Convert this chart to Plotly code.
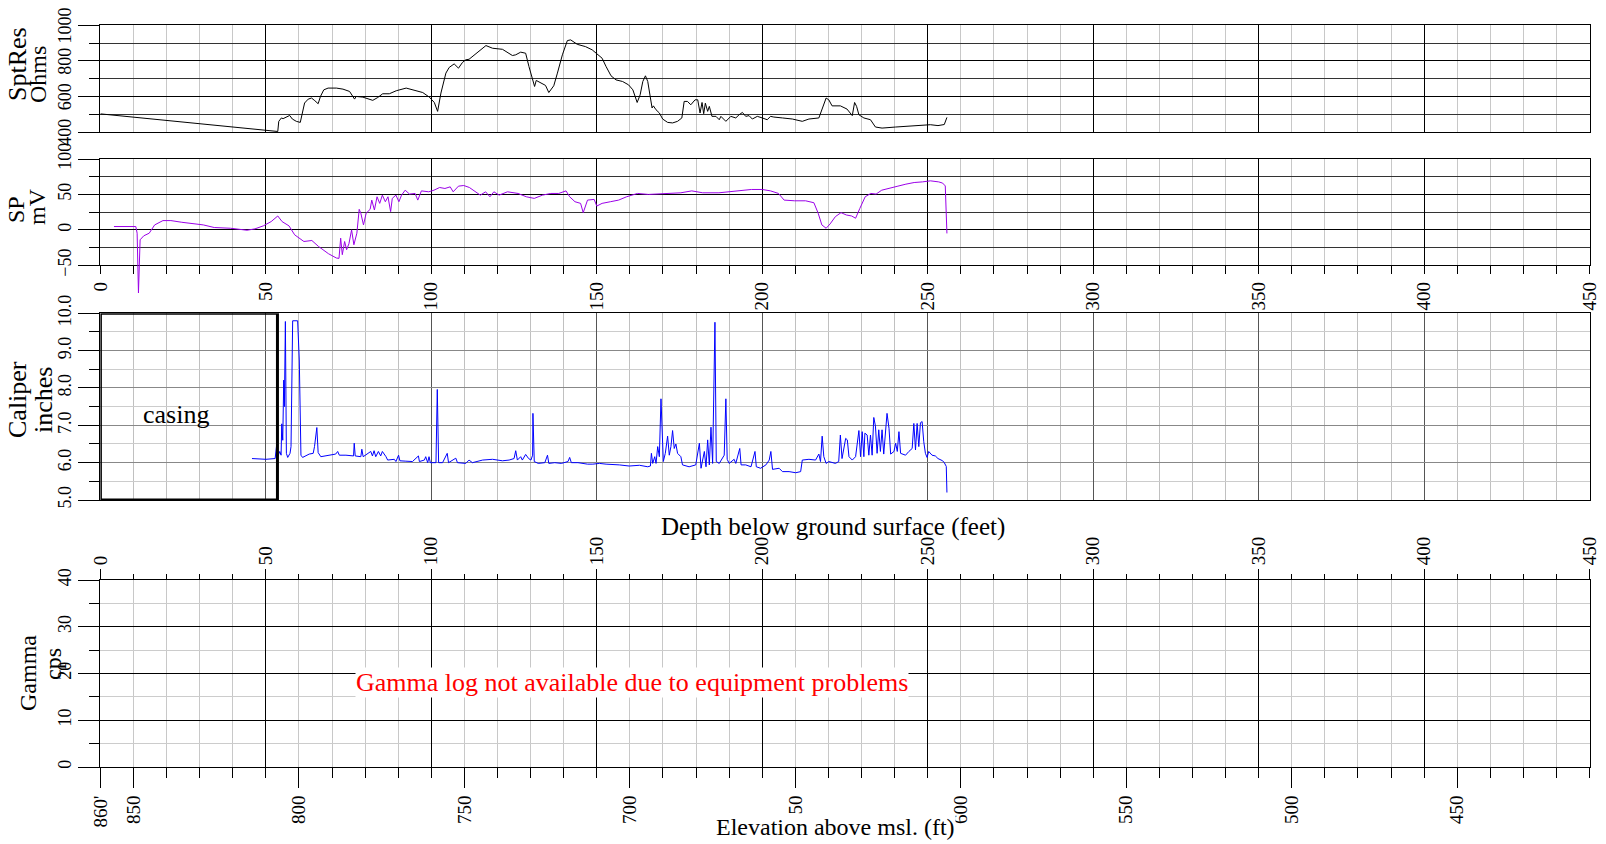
import plotly.graph_objects as go

# ---------------- data ----------------
res_depth = [0, 53.6, 53.9, 54.7, 55.2, 56.2, 57.2, 58.0, 59.2, 60.4, 61.0, 61.7, 62.8, 63.8, 64.8,
             65.8, 66.5, 67.5, 68.8, 71.3, 73.3, 75.3, 76.8, 77.3, 79.3, 80.8, 82.3, 83.8, 85.3,
             87.3, 89.4, 92.4, 94.4, 97.4, 99.4, 100.9, 101.9, 102.9, 104.4, 105.4, 106.9, 108.2,
             109.4, 110.4, 111.4, 113.5, 115.5, 116.5, 118.5, 121.5, 124.5, 125.5, 127.0, 128.5,
             129.5, 130.5, 131.2, 131.7, 133.0, 134.5, 135.5, 137.0, 138.1, 139.6, 141.1, 142.1,
             144.1, 146.6, 148.6, 150.4, 151.6, 152.8, 154.3, 155.8, 157.8, 159.6, 160.9, 162.2,
             163.1, 163.9, 164.7, 165.4, 166.1, 166.7, 167.1, 167.9, 168.9, 169.9, 171.4, 172.9,
             174.4, 175.7, 176.4, 177.4, 178.4, 179.7, 180.5, 181.2, 181.8, 182.3, 182.8, 183.5,
             184.0, 184.8, 186.0, 187.0, 187.5, 189.0, 190.5, 192.0, 193.0, 194.0, 195.0, 196.0,
             197.0, 198.5, 200.0, 201.5, 202.5, 203.5, 206.1, 209.1, 212.1, 214.1, 217.1, 218.1,
             219.3, 220.1, 221.1, 223.6, 225.6, 227.2, 227.9, 228.5, 229.2, 230.7, 232.7, 234.2,
             236.2, 240.3, 244.3, 248.3, 250.8, 253.1, 255.0, 255.8]
res_ohms = [502, 403, 460, 479, 475, 482, 493, 473, 460, 454, 497, 563, 585, 591, 576,
            559, 600, 637, 647, 647, 641, 628, 585, 600, 596, 589, 578, 594, 615,
            615, 632, 647, 637, 622, 596, 566, 516, 619, 731, 763, 783, 759,
            791, 806, 809, 843, 871, 886, 871, 865, 830, 834, 849, 843,
            768, 693, 656, 690, 675, 662, 622, 660, 731, 834, 914, 918,
            893, 880, 862, 834, 815, 768, 716, 693, 684, 665, 637, 566,
            609, 684, 716, 684, 600, 535, 547, 525, 507, 473, 454, 451,
            460, 479, 572, 572, 553, 581, 581, 507, 566, 503, 562, 516,
            544, 488, 488, 469, 488, 460, 488, 479, 497, 510, 488, 492,
            473, 488, 479, 469, 488, 484, 479, 473, 460, 473, 479, 529,
            591, 581, 547, 547, 529, 492, 566, 544, 497, 479, 469, 428,
            422, 428, 432, 436, 441, 436, 442, 482]

sp_depth = [4.1, 10.7, 11.1, 11.5, 12.0, 13.1, 14.75, 16.4, 18.9, 21.3, 24.6, 27.9, 31.1, 34.4,
            39.3, 44.3, 46.7, 49.2, 51.6, 53.6, 54.9, 57.0, 58.7, 61.5, 63.9, 65.9, 68.9, 71.3,
            72.1, 72.6, 73.1, 73.8, 74.4, 75.1, 75.9, 76.6, 77.5, 78.2, 78.7, 79.5, 80.3, 81.5,
            82.0, 82.8, 83.6, 84.4, 85.2, 86.1, 86.9, 87.7, 88.2, 89.3, 90.2, 91.0, 92.1, 93.4,
            95.1, 95.9, 97.0, 99.2, 100.8, 102.5, 104.1, 105.7, 106.6, 108.2, 109.8, 111.5,
            113.1, 114.8, 116.4, 117.7, 118.9, 120.5, 123.0, 126.2, 128.7, 131.1, 133.6, 136.1,
            138.5, 140.7, 141.8, 143.4, 145.1, 145.9, 147.2, 149.2, 150.0, 151.6, 154.1, 156.6,
            159.0, 162.3, 165.6, 170.5, 175.4, 178.7, 182.0, 186.9, 191.8, 196.7, 200.0, 202.5,
            204.9, 206.6, 209.8, 213.1, 215.6, 216.9, 218.0, 219.3, 220.5, 222.1, 223.8, 225.4,
            227.0, 228.2, 229.5, 231.1, 232.8, 234.4, 236.1, 238.5, 241.0, 243.4, 245.9, 248.4,
            250.8, 253.3, 254.5, 255.3, 255.8]
sp_mv = [4.7, 4.7, -4.7, -89, -14, -8.4, -4.7, 7, 13.1, 13.1, 10.7, 8.4, 7, 3.3,
         2.3, -0.5, 1.4, 5.6, 11.7, 19.6, 11.7, 5.6, -7, -16.4, -15, -23.4, -33.6, -39.7,
         -40.2, -11.7, -35, -16.4, -28, -19.6, 0, -21, -4.7, 29, 23.4, 7, 23.4, 29,
         42, 28, 46.7, 37.4, 49, 39.7, 46.7, 25.7, 44.4, 49, 39.7, 49, 56, 50.5,
         51.4, 42, 55, 53.7, 56, 59.8, 58.4, 60.7, 53.7, 61.7, 62.6, 59.8,
         55, 49, 53.7, 46.7, 53.7, 49, 53.7, 51.4, 46.7, 44.4, 49, 51.4,
         51.4, 55, 46.7, 39.7, 37.4, 24.3, 42, 43, 33.6, 37.4, 39.7, 42,
         46.7, 51.4, 50, 51.4, 52.3, 55, 52.3, 52.3, 55, 57, 57, 55,
         51.4, 42, 41, 41, 38.3, 23.4, 7, 2.3, 8.4, 18.7, 24.3, 21,
         19.6, 16.4, 30.4, 46.7, 51.4, 50.5, 56, 58.4, 61.7, 64.5, 66.8, 67.7,
         69.2, 67.7, 66, 62, -5]

cal_depth = [45.8, 50.0, 52.8, 53.2, 53.6, 54.2, 54.6, 54.8, 55.1, 55.4, 55.6, 55.9, 56.2, 56.6,
             57.3, 57.6, 58.1, 59.6, 60.1, 60.6, 61.1, 62.1, 63.1, 64.3, 64.7, 65.4, 65.8, 66.6,
             68.1, 69.6, 71.1, 71.7, 72.2, 74.2, 76.5, 76.7, 77.0, 78.7, 79.0, 79.4, 80.7, 81.7,
             82.2, 82.7, 83.2, 84.0, 84.7, 85.2, 86.3, 86.8, 88.8, 89.3, 90.1, 90.5, 92.3, 94.3,
             96.1, 96.4, 97.9, 98.3, 98.9, 99.3, 99.7, 101.4, 101.8, 102.2, 103.4, 104.8, 105.2,
             106.4, 107.4, 107.9, 110.4, 111.4, 112.4, 115.5, 118.5, 121.5, 123.5, 125.0, 125.5,
             126.0, 127.0, 127.5, 128.5, 129.4, 130.1, 130.6, 130.7, 131.1, 132.3, 134.3, 135.1,
             135.5, 137.3, 139.3, 141.3, 141.8, 142.3, 144.3, 147.2, 148.8, 150.8, 152.8, 154.8,
             156.8, 159.8, 162.9, 165.4, 166.2, 166.5, 166.9, 167.5, 167.9, 168.4, 168.9, 169.4,
             169.8, 170.1, 170.7, 171.4, 171.9, 172.4, 172.9, 173.4, 173.9, 174.4, 175.4, 175.9,
             177.9, 179.9, 181.0, 181.5, 182.5, 183.0, 183.5, 184.0, 184.5, 185.0, 185.7, 186.1,
             187.0, 188.0, 188.5, 189.0, 189.4, 190.0, 190.8, 191.5, 192.0, 193.2, 193.6, 195.0,
             196.6, 197.8, 198.2, 199.5, 201.1, 202.1, 202.6, 203.1, 205.1, 206.1, 208.1, 210.1,
             211.6, 212.1, 214.1, 216.1, 217.1, 217.6, 218.1, 218.6, 219.3, 220.1, 222.1, 223.1,
             223.6, 224.1, 225.2, 225.7, 226.2, 227.2, 228.2, 229.2, 229.7, 230.2, 230.7, 231.0,
             231.7, 232.2, 232.7, 233.2, 233.7, 234.2, 234.7, 235.2, 235.7, 236.2, 236.7, 237.3,
             237.7, 238.3, 238.8, 239.8, 240.3, 240.8, 241.3, 241.8, 243.3, 244.3, 245.3, 245.8,
             246.3, 246.8, 247.3, 247.8, 248.3, 248.8, 249.3, 249.8, 250.3, 251.3, 252.3, 253.1,
             254.5, 255.0, 255.6, 255.8]
cal_in = [6.11, 6.09, 6.11, 6.43, 6.16, 6.30, 6.20, 7.04, 6.60, 8.21, 7.50, 9.78, 6.25, 6.14,
          6.25, 6.43, 9.80, 9.80, 8.75, 6.20, 6.14, 6.18, 6.23, 6.25, 6.43, 6.94, 6.27, 6.16,
          6.18, 6.20, 6.23, 6.30, 6.20, 6.20, 6.18, 6.52, 6.18, 6.16, 6.36, 6.16, 6.23, 6.30,
          6.18, 6.32, 6.16, 6.30, 6.18, 6.30, 6.16, 6.07, 6.09, 6.03, 6.20, 6.05, 6.04, 6.03,
          6.18, 6.03, 6.07, 6.16, 6.00, 6.16, 6.00, 6.00, 7.96, 6.00, 6.00, 6.25, 6.00,
          6.07, 6.12, 6.00, 5.98, 6.07, 6.00, 6.07, 6.09, 6.05, 6.07, 6.11, 6.32,
          6.07, 6.16, 6.07, 6.22, 6.11, 6.07, 6.20, 7.32, 6.03, 5.98, 6.00, 6.20,
          5.98, 6.00, 5.98, 6.03, 6.14, 6.00, 6.00, 5.96, 5.96, 5.98, 5.96, 5.96,
          5.94, 5.91, 5.93, 5.89, 5.91, 6.25, 5.98, 6.16, 5.98, 6.43, 6.16, 7.71,
          6.79, 6.03, 6.25, 6.71, 6.20, 6.43, 6.86, 6.38, 6.50, 6.25, 6.16, 5.94,
          5.89, 5.94, 6.52, 5.85, 6.30, 5.89, 6.61, 5.94, 6.95, 5.98, 9.76, 6.03,
          5.98, 6.11, 6.20, 7.71, 6.09, 5.98, 6.03, 6.09, 5.98, 6.38, 5.94, 5.94,
          5.89, 6.30, 5.89, 5.85, 5.94, 6.07, 6.30, 5.82, 5.85, 5.76, 5.76, 5.73,
          5.76, 6.07, 6.09, 6.07, 6.23, 6.03, 6.71, 6.16, 5.98, 6.03, 5.98, 6.03,
          6.74, 6.11, 6.65, 6.61, 6.16, 6.07, 6.16, 6.86, 6.16, 6.83, 6.16, 6.79,
          6.74, 6.20, 6.74, 6.20, 7.21, 6.98, 6.25, 6.88, 6.30, 6.88, 6.23, 6.79,
          7.32, 6.92, 6.23, 6.30, 6.52, 6.30, 6.83, 6.25, 6.20, 6.30, 6.38, 7.05,
          6.34, 7.05, 6.43, 7.07, 7.10, 6.56, 6.25, 6.14, 6.30, 6.20, 6.18, 6.11,
          6.05, 6.00, 5.90, 5.20]

depth_ticks = [0, 50, 100, 150, 200, 250, 300, 350, 400, 450]
ground_elev = 860
elev_ticks = [860, 850, 800, 750, 700, 650, 600, 550, 500, 450]
elev_labels = ["860'", "850", "800", "750", "700", "650", "600", "550", "500", "450"]
casing_bottom = 53.5

# ---------------- layout helpers ----------------
W, H = 1606, 844
FONT = "Liberation Serif"
XDOM = [100.4 / W, 1589.6 / W]


def ydom(top, bottom):
    return [1 - bottom / H, 1 - top / H]


def px(x):
    return x / W


def py(y):
    return 1 - y / H


def xax(major_col, minor_col, **kw):
    d = dict(range=[0, 450], domain=XDOM, tickmode="array", tickvals=depth_ticks,
             showgrid=True, gridcolor=major_col, gridwidth=1, automargin=False,
             minor=dict(tickmode="linear", tick0=0, dtick=10, showgrid=True,
                        gridcolor=minor_col, gridwidth=1),
             zeroline=False, showline=True, linecolor="black", linewidth=1, mirror=True,
             showticklabels=False, ticks="", fixedrange=True,
             tickfont=dict(family=FONT, size=19, color="black"))
    d.update(kw)
    return d


def yax(rng, dtick, mdtick, major_col, minor_col, top, bottom, **kw):
    d = dict(range=rng, domain=ydom(top, bottom), tick0=rng[0], dtick=dtick,
             showgrid=True, gridcolor=major_col, gridwidth=1, automargin=False,
             minor=dict(tick0=rng[0], dtick=mdtick, showgrid=True, gridcolor=minor_col,
                        gridwidth=1, ticks="outside", ticklen=10, tickcolor="black"),
             ticks="outside", ticklen=21, tickcolor="black",
             zeroline=False, showline=True, linecolor="black", linewidth=1, mirror=True,
             tickangle=-90, tickfont=dict(family=FONT, size=18, color="black"),
             fixedrange=True)
    d.update(kw)
    return d


P1 = (25.3, 132.0)
P2 = (159.0, 265.3)
P3 = (313.3, 500.0)
P4 = (580.0, 767.0)
SP_RANGE = [-50, 100]
# the SP curve is drawn on a hidden axis with the same scale, reaching lower,
# so that its deep spike can run below the SP panel as in the reference
SP_EXT_BOTTOM = 305.0
sp_ext_low = SP_RANGE[1] - (SP_EXT_BOTTOM - P2[0]) / (P2[1] - P2[0]) * (SP_RANGE[1] - SP_RANGE[0])

fig = go.Figure()
fig.add_trace(go.Scatter(x=res_depth, y=res_ohms, mode="lines", xaxis="x", yaxis="y",
                         line=dict(color="black", width=1), showlegend=False))
fig.add_trace(go.Scatter(x=[], y=[], mode="lines", xaxis="x2", yaxis="y2", showlegend=False))
fig.add_trace(go.Scatter(x=cal_depth, y=cal_in, mode="lines", xaxis="x3", yaxis="y3",
                         line=dict(color="#0000FF", width=1), showlegend=False))
fig.add_trace(go.Scatter(x=[], y=[], mode="lines", xaxis="x4", yaxis="y4", showlegend=False))
fig.add_trace(go.Scatter(x=[], y=[], mode="lines", xaxis="x5", yaxis="y4", showlegend=False))
fig.add_trace(go.Scatter(x=sp_depth, y=sp_mv, mode="lines", xaxis="x6", yaxis="y6",
                         line=dict(color="#9B00E8", width=1), showlegend=False))

layout = dict(
    width=W, height=H, margin=dict(l=0, r=0, t=0, b=0, pad=0, autoexpand=False),
    paper_bgcolor="white", plot_bgcolor="rgba(0,0,0,0)", showlegend=False,
    font=dict(family=FONT, color="black"),
    xaxis=xax("black", "#c8c8c8", anchor="y"),
    xaxis2=xax("black", "#c8c8c8", anchor="y2", showticklabels=True, ticks="outside",
               ticklen=8, tickcolor="black", tickangle=-90,
               minor=dict(tickmode="linear", tick0=0, dtick=10, showgrid=True,
                          gridcolor="#c8c8c8", ticks="outside", ticklen=8,
                          tickcolor="black")),
    xaxis3=xax("#555555", "#c0c0c0", anchor="y3"),
    xaxis4=xax("black", "#c8c8c8", anchor="y4", side="top", showticklabels=True,
               ticks="outside", ticklen=10, tickcolor="black", tickangle=-90,
               minor=dict(tickmode="linear", tick0=0, dtick=10, showgrid=True,
                          gridcolor="#c8c8c8", ticks="outside", ticklen=5,
                          tickcolor="black")),
    xaxis5=dict(range=[0, 450], domain=XDOM, anchor="y4", overlaying="x4", side="bottom",
                tickmode="array", tickvals=[ground_elev - e for e in elev_ticks],
                ticktext=elev_labels, showgrid=False, zeroline=False, automargin=False,
                ticks="outside", ticklen=20, tickcolor="black", tickangle=-90,
                minor=dict(tickmode="linear", tick0=0, dtick=10, showgrid=False,
                           ticks="outside", ticklen=10, tickcolor="black"),
                tickfont=dict(family=FONT, size=19, color="black"), fixedrange=True),
    xaxis6=dict(range=[0, 450], domain=XDOM, anchor="y6", visible=False, fixedrange=True),
    yaxis=yax([400, 1000], 200, 100, "black", "#333333", *P1, ticklabelshift=3),
    yaxis2=yax(SP_RANGE, 50, 25, "black", "#333333", *P2),
    yaxis3=yax([5, 10], 1, 0.5, "#888888", "#cccccc", *P3, tickformat=".1f"),
    yaxis4=yax([0, 40], 10, 5, "black", "#cccccc", *P4),
    yaxis6=dict(range=[sp_ext_low, SP_RANGE[1]], domain=ydom(P2[0], SP_EXT_BOTTOM),
                anchor="x6", visible=False, fixedrange=True),
)
fig.update_layout(**layout)

# casing box
fig.add_shape(type="rect", xref="x3", yref="y3", x0=0, x1=casing_bottom, y0=5, y1=10,
              line=dict(color="black", width=3), fillcolor="rgba(0,0,0,0)", layer="above")

ann = []


def title(text, x, y, size=24):
    ann.append(dict(text=text, xref="paper", yref="paper", x=px(x), y=py(y),
                    xanchor="center", yanchor="middle", textangle=-90, showarrow=False,
                    font=dict(family=FONT, size=size, color="black")))


title("SptRes", 17, 64, 26)
title("Ohms", 38, 75)
title("SP", 16, 210)
title("mV", 37, 207)
title("Caliper", 17, 400, 26)
title("inches", 43, 400, 26)
title("Gamma", 28, 673)
title("cps", 53, 664)

ann.append(dict(text="casing", xref="x3", yref="y3", x=22.8, y=7.3, showarrow=False,
                xanchor="center", yanchor="middle",
                font=dict(family=FONT, size=26, color="black")))
ann.append(dict(text="Gamma log not available due to equipment problems", xref="x4",
                yref="y4", x=160.7, y=18, showarrow=False, xanchor="center",
                yanchor="middle", bgcolor="white", borderpad=0,
                font=dict(family=FONT, size=26, color="red")))
ann.append(dict(text="Depth below ground surface (feet)", xref="paper", yref="paper",
                x=px(833), y=py(527), showarrow=False, xanchor="center", yanchor="middle",
                font=dict(family=FONT, size=25, color="black")))
ann.append(dict(text="Elevation above msl. (ft)", xref="paper", yref="paper",
                x=px(835), y=py(827), showarrow=False, xanchor="center", yanchor="middle",
                bgcolor="white", borderpad=0,
                font=dict(family=FONT, size=24, color="black")))
fig.update_layout(annotations=ann)

fig.write_html("out.html", config={"displayModeBar": False})
